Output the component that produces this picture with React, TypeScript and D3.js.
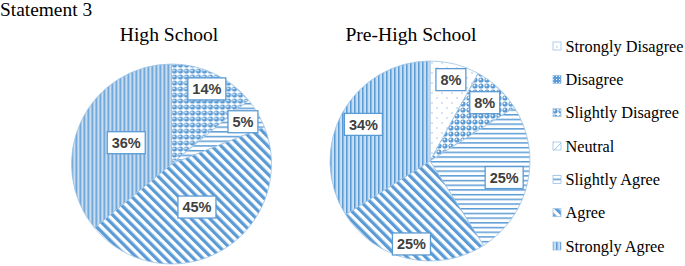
import React from "react";
import * as d3 from "d3";

const chartTitle = "Statement 3";
const categories = [
  "Strongly Disagree",
  "Disagree",
  "Slightly Disagree",
  "Neutral",
  "Slightly Agree",
  "Agree",
  "Strongly Agree",
];
const pieTitles = ["High School", "Pre-High School"];
const highSchoolValues = [0, 0, 14, 0, 5, 45, 36];
const preHighSchoolValues = [8, 0, 8, 0, 25, 25, 34];
const seriesValues = [highSchoolValues, preHighSchoolValues];

// layout (not data)
const W = 685;
const H = 266;
const BLUE = "#5B9BD5";
const LIGHT = "#9DC3E6";
const pieCenters = [
  { cx: 171.5, cy: 164, titleX: 169 },
  { cx: 430, cy: 161, titleX: 411 },
];
const R = 100;
// label radial fraction per category for each pie
const labelFrac = [
  [0.8, 0.8, 0.83, 0.8, 0.83, 0.5, 0.5],
  [0.84, 0.8, 0.8, 0.8, 0.76, 0.85, 0.76],
];

function Patterns() {
  return (
    <defs>
      {/* Strongly Disagree: sparse dots */}
      <pattern id="pat0" width={10} height={10} patternUnits="userSpaceOnUse">
        <rect width={10} height={10} fill="#fff" />
        <circle cx={2} cy={2} r={0.7} fill="#8FB3D9" />
        <circle cx={7} cy={7} r={0.7} fill="#8FB3D9" />
      </pattern>
      {/* Disagree: dense trellis */}
      <pattern id="pat1" width={3} height={3} patternUnits="userSpaceOnUse">
        <rect width={3} height={3} fill={BLUE} />
        <rect x={1} y={1} width={1} height={1} fill="#fff" />
      </pattern>
      {/* Slightly Disagree: bubbles */}
      <pattern id="pat2" width={6} height={6} patternUnits="userSpaceOnUse">
        <rect width={6} height={6} fill="#fff" />
        <circle cx={3} cy={3} r={2.6} fill={BLUE} />
        <circle cx={2.4} cy={2.4} r={0.9} fill="#fff" />
      </pattern>
      {/* Neutral: light diagonal */}
      <pattern id="pat3" width={8} height={8} patternUnits="userSpaceOnUse">
        <rect width={8} height={8} fill="#fff" />
        <path d="M0,8 L8,0" stroke={LIGHT} strokeWidth={1} />
      </pattern>
      {/* Slightly Agree: horizontal lines */}
      <pattern id="pat4" width={5} height={4.7} patternUnits="userSpaceOnUse">
        <rect width={5} height={4.7} fill="#fff" />
        <rect y={0} width={5} height={1.5} fill={BLUE} />
      </pattern>
      {/* Agree: wide downward diagonal */}
      <pattern
        id="pat5"
        width={6.6}
        height={10}
        patternUnits="userSpaceOnUse"
        patternTransform="rotate(-45)"
      >
        <rect width={6.6} height={10} fill="#fff" />
        <rect x={0} width={3.3} height={10} fill={BLUE} />
      </pattern>
      {/* Strongly Agree: vertical lines */}
      <pattern id="pat6" width={4} height={4} patternUnits="userSpaceOnUse">
        <rect width={4} height={4} fill="#fff" />
        <rect x={0} width={1.7} height={4} fill={BLUE} />
        <rect x={2.4} width={1.1} height={4} fill={LIGHT} />
      </pattern>
    </defs>
  );
}

function Pie({ values, idx }: { values: number[]; idx: number }) {
  const { cx, cy, titleX } = pieCenters[idx];
  const data = values.map((v, i) => ({ v, i }));
  const pie = d3
    .pie<{ v: number; i: number }>()
    .sort(null)
    .value((d) => d.v)
    .startAngle(0)
    .endAngle(2 * Math.PI);
  const arcs = pie(data);
  const arc = d3
    .arc<d3.PieArcDatum<{ v: number; i: number }>>()
    .innerRadius(0)
    .outerRadius(R);
  const fs = 14.5;
  return (
    <g>
      <text
        x={titleX}
        y={41}
        textAnchor="middle"
        fontFamily="'Liberation Serif', 'Times New Roman', serif"
        fontSize={19.6}
        fill="#000"
      >
        {pieTitles[idx]}
      </text>
      <g transform={`translate(${cx},${cy})`}>
        {arcs
          .filter((a) => a.data.v > 0)
          .map((a) => (
            <path
              key={a.data.i}
              d={arc(a) || ""}
              fill={`url(#pat${a.data.i})`}
              stroke={LIGHT}
              strokeWidth={0.8}
            />
          ))}
        {arcs
          .filter((a) => a.data.v > 0)
          .map((a) => {
            const mid = (a.startAngle + a.endAngle) / 2;
            const rr = R * labelFrac[idx][a.data.i];
            const x = Math.sin(mid) * rr;
            const y = -Math.cos(mid) * rr;
            const label = `${a.data.v}%`;
            const digits = label.length - 1;
            const tw = digits * 0.556 * fs + 0.889 * fs;
            const bw = tw + 9;
            const bh = 22;
            return (
              <g key={"l" + a.data.i} transform={`translate(${x},${y})`}>
                <rect
                  x={-bw / 2}
                  y={-bh / 2}
                  width={bw}
                  height={bh}
                  fill="#fff"
                  stroke={BLUE}
                  strokeWidth={1.3}
                />
                <text
                  x={0}
                  y={5.2}
                  textAnchor="middle"
                  fontFamily="'Liberation Sans', Arial, sans-serif"
                  fontWeight="bold"
                  fontSize={fs}
                  fill="#404040"
                >
                  {label}
                </text>
              </g>
            );
          })}
      </g>
    </g>
  );
}

function Legend() {
  const y = d3
    .scalePoint<string>()
    .domain(categories)
    .range([46, 246]);
  return (
    <g>
      {categories.map((c, i) => {
        const cy = y(c) || 0;
        return (
          <g key={c}>
            <rect
              x={553}
              y={cy - 4}
              width={8}
              height={8}
              fill={`url(#pat${i})`}
              stroke={LIGHT}
              strokeWidth={0.8}
            />
            <text
              x={565.5}
              y={cy + 5.5}
              fontFamily="'Liberation Serif', 'Times New Roman', serif"
              fontSize={16.3}
              fill="#000"
            >
              {c}
            </text>
          </g>
        );
      })}
    </g>
  );
}

export default function App() {
  return (
    <svg
      width={W}
      height={H}
      style={{ position: "absolute", left: 0, top: 0, background: "#fff" }}
    >
      <Patterns />
      <rect width={W} height={H} fill="#fff" />
      <text
        x={0}
        y={16}
        fontFamily="'Liberation Serif', 'Times New Roman', serif"
        fontSize={19.4}
        fill="#000"
      >
        {chartTitle}
      </text>
      {seriesValues.map((v, i) => (
        <Pie key={i} values={v} idx={i} />
      ))}
      <Legend />
    </svg>
  );
}
